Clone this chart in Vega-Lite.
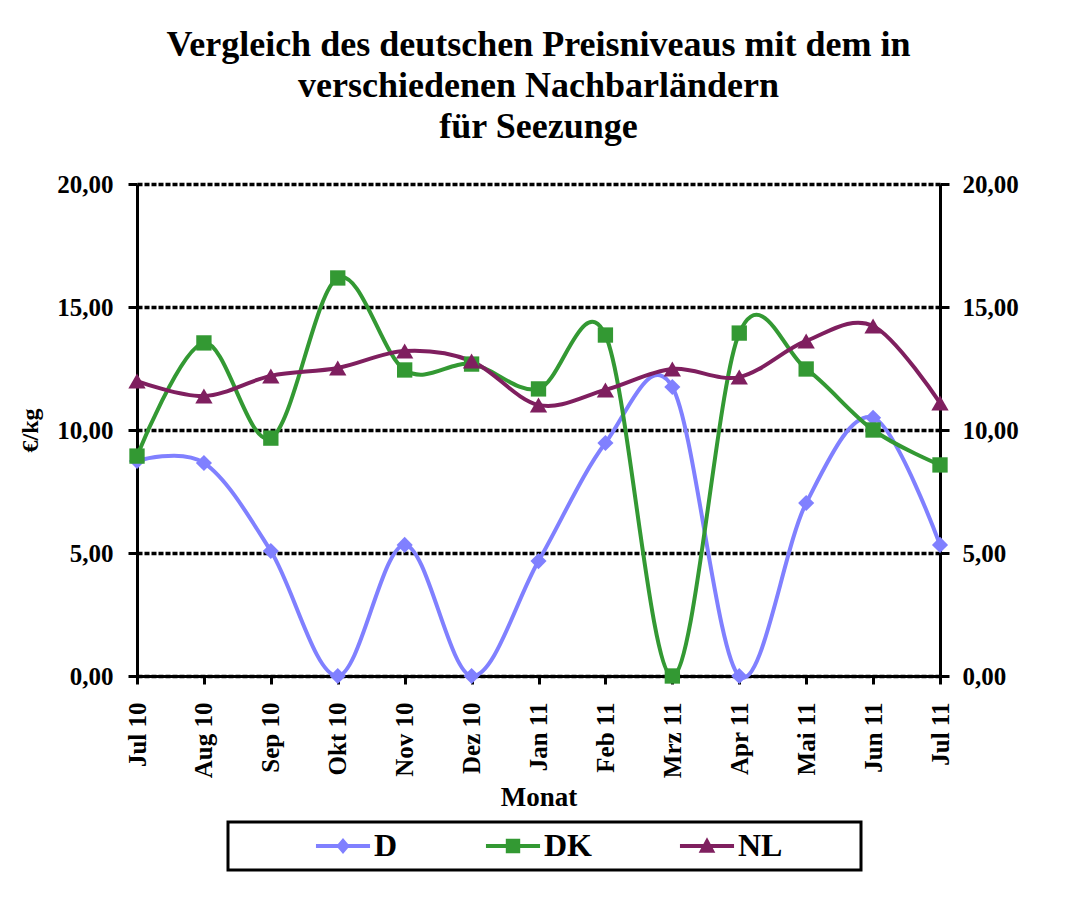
{
  "$schema": "https://vega.github.io/schema/vega-lite/v6.json",
  "width": 803,
  "height": 492,
  "autosize": {"type": "none"},
  "padding": {"left": 137, "top": 184, "right": 150, "bottom": 221},
  "background": "white",
  "config": {"view": {"stroke": null}},
  "title": {
    "text": ["Vergleich des deutschen Preisniveaus mit dem in", "verschiedenen Nachbarländern", "für Seezunge"],
    "font": "Liberation Serif",
    "fontSize": 36,
    "fontWeight": "bold",
    "lineHeight": 41,
    "anchor": "middle",
    "offset": 26,
    "color": "black"
  },
  "data": {
    "values": [
      {"Monat": "Jul 10", "Land": "D", "Preis": 8.74},
      {"Monat": "Aug 10", "Land": "D", "Preis": 8.66},
      {"Monat": "Sep 10", "Land": "D", "Preis": 5.08},
      {"Monat": "Okt 10", "Land": "D", "Preis": 0},
      {"Monat": "Nov 10", "Land": "D", "Preis": 5.33},
      {"Monat": "Dez 10", "Land": "D", "Preis": 0},
      {"Monat": "Jan 11", "Land": "D", "Preis": 4.67},
      {"Monat": "Feb 11", "Land": "D", "Preis": 9.47},
      {"Monat": "Mrz 11", "Land": "D", "Preis": 11.75},
      {"Monat": "Apr 11", "Land": "D", "Preis": 0},
      {"Monat": "Mai 11", "Land": "D", "Preis": 7.03},
      {"Monat": "Jun 11", "Land": "D", "Preis": 10.5},
      {"Monat": "Jul 11", "Land": "D", "Preis": 5.33},
      {"Monat": "Jul 10", "Land": "DK", "Preis": 8.94},
      {"Monat": "Aug 10", "Land": "DK", "Preis": 13.54},
      {"Monat": "Sep 10", "Land": "DK", "Preis": 9.67},
      {"Monat": "Okt 10", "Land": "DK", "Preis": 16.18},
      {"Monat": "Nov 10", "Land": "DK", "Preis": 12.44},
      {"Monat": "Dez 10", "Land": "DK", "Preis": 12.68},
      {"Monat": "Jan 11", "Land": "DK", "Preis": 11.67},
      {"Monat": "Feb 11", "Land": "DK", "Preis": 13.86},
      {"Monat": "Mrz 11", "Land": "DK", "Preis": 0},
      {"Monat": "Apr 11", "Land": "DK", "Preis": 13.94},
      {"Monat": "Mai 11", "Land": "DK", "Preis": 12.48},
      {"Monat": "Jun 11", "Land": "DK", "Preis": 10.0},
      {"Monat": "Jul 11", "Land": "DK", "Preis": 8.58},
      {"Monat": "Jul 10", "Land": "NL", "Preis": 11.99},
      {"Monat": "Aug 10", "Land": "NL", "Preis": 11.38},
      {"Monat": "Sep 10", "Land": "NL", "Preis": 12.2},
      {"Monat": "Okt 10", "Land": "NL", "Preis": 12.52},
      {"Monat": "Nov 10", "Land": "NL", "Preis": 13.21},
      {"Monat": "Dez 10", "Land": "NL", "Preis": 12.8},
      {"Monat": "Jan 11", "Land": "NL", "Preis": 11.02},
      {"Monat": "Feb 11", "Land": "NL", "Preis": 11.63},
      {"Monat": "Mrz 11", "Land": "NL", "Preis": 12.48},
      {"Monat": "Apr 11", "Land": "NL", "Preis": 12.15},
      {"Monat": "Mai 11", "Land": "NL", "Preis": 13.62},
      {"Monat": "Jun 11", "Land": "NL", "Preis": 14.23},
      {"Monat": "Jul 11", "Land": "NL", "Preis": 11.1}
    ]
  },
  "layer": [
    {
      "mark": {"type": "line", "interpolate": "cardinal", "strokeWidth": 4},
      "encoding": {
        "x": {
          "field": "Monat", "type": "ordinal",
          "sort": ["Jul 10","Aug 10","Sep 10","Okt 10","Nov 10","Dez 10","Jan 11","Feb 11","Mrz 11","Apr 11","Mai 11","Jun 11","Jul 11"],
          "scale": {"type": "point", "padding": 0},
          "axis": {
            "orient": "bottom", "labelAngle": -90,
            "labelFont": "Liberation Serif", "labelFontSize": 25, "labelFontWeight": "bold", "labelColor": "black",
            "labelPadding": 18, "tickSize": 8, "tickWidth": 3, "tickColor": "black",
            "domainColor": "black", "domainWidth": 3, "grid": false,
            "title": "Monat", "titleFont": "Liberation Serif", "titleFontSize": 27, "titleFontWeight": "bold",
            "titleColor": "black", "titlePadding": 7
          }
        },
        "y": {
          "field": "Preis", "type": "quantitative",
          "scale": {"domain": [0, 20]},
          "axis": {
            "orient": "left", "values": [0, 5, 10, 15, 20],
            "grid": true, "gridColor": "black", "gridWidth": 3.5, "gridDash": [5, 2],
            "domainColor": "black", "domainWidth": 3,
            "tickColor": "black", "tickWidth": 3, "tickSize": 9,
            "labelFont": "Liberation Serif", "labelFontSize": 25, "labelFontWeight": "bold", "labelColor": "black",
            "labelPadding": 15,
            "labelExpr": "replace(format(datum.value, '.2f'), '.', ',')",
            "title": "€/kg", "titleFont": "Liberation Serif", "titleFontSize": 24, "titleFontWeight": "bold",
            "titleColor": "black", "titlePadding": 14
          }
        },
        "stroke": {
          "field": "Land", "type": "nominal",
          "scale": {"domain": ["D", "DK", "NL"], "range": ["#8080FF", "#339933", "#7F1F5F"]},
          "legend": {
            "orient": "none", "legendX": 91, "legendY": 638,
            "direction": "horizontal",
            "title": "\u00a0", "titleOrient": "right", "titlePadding": 71,
            "titleFont": "Liberation Serif", "titleFontSize": 32, "titleColor": "black",
            "strokeColor": "black", "fillColor": "white",
            "padding": 8, "symbolOffset": 91, "columnPadding": 8,
            "labelFont": "Liberation Serif", "labelFontSize": 32, "labelFontWeight": "bold", "labelColor": "black",
            "symbolSize": 1024, "labelOffset": 15,
            "encode": {
              "legend": {"update": {"strokeWidth": {"value": 3}}},
              "symbols": {
                "update": {
                  "shape": {"signal": "datum.value === 'D' ? 'M-1.69,-0.13H1.69V0.13H-1.69Z M0,-0.5L0.42,0L0,0.5L-0.42,0Z' : datum.value === 'DK' ? 'M-1.69,-0.13H1.69V0.13H-1.69Z M-0.45,-0.45H0.45V0.45H-0.45Z' : 'M-1.69,-0.13H1.69V0.13H-1.69Z M0,-0.55L0.52,0.42H-0.52Z'"},
                  "fill": {"signal": "scale('stroke', datum.value)"},
                  "stroke": {"value": "transparent"},
                  "strokeWidth": {"value": 0},
                  "opacity": {"value": 1}
                }
              }
            }
          }
        }
      }
    },
    {
      "transform": [{"filter": "datum.Land == 'D'"}],
      "mark": {"type": "point", "filled": true, "shape": "diamond", "size": 260, "opacity": 1, "color": "#8080FF"},
      "encoding": {
        "x": {
          "field": "Monat", "type": "ordinal",
          "sort": ["Jul 10","Aug 10","Sep 10","Okt 10","Nov 10","Dez 10","Jan 11","Feb 11","Mrz 11","Apr 11","Mai 11","Jun 11","Jul 11"]
        },
        "y": {
          "field": "Preis", "type": "quantitative",
          "axis": {
            "orient": "right", "values": [0, 5, 10, 15, 20], "grid": false,
            "domainColor": "black", "domainWidth": 3,
            "tickColor": "black", "tickWidth": 3, "tickSize": 9,
            "labelFont": "Liberation Serif", "labelFontSize": 25, "labelFontWeight": "bold", "labelColor": "black",
            "labelPadding": 13,
            "labelExpr": "replace(format(datum.value, '.2f'), '.', ',')",
            "title": null
          }
        }
      }
    },
    {
      "transform": [{"filter": "datum.Land == 'DK'"}],
      "mark": {"type": "point", "filled": true, "shape": "square", "size": 235, "opacity": 1, "color": "#339933"},
      "encoding": {
        "x": {
          "field": "Monat", "type": "ordinal",
          "sort": ["Jul 10","Aug 10","Sep 10","Okt 10","Nov 10","Dez 10","Jan 11","Feb 11","Mrz 11","Apr 11","Mai 11","Jun 11","Jul 11"]
        },
        "y": {"field": "Preis", "type": "quantitative", "axis": null}
      }
    },
    {
      "transform": [{"filter": "datum.Land == 'NL'"}],
      "mark": {"type": "point", "filled": true, "shape": "triangle-up", "size": 300, "opacity": 1, "color": "#7F1F5F"},
      "encoding": {
        "x": {
          "field": "Monat", "type": "ordinal",
          "sort": ["Jul 10","Aug 10","Sep 10","Okt 10","Nov 10","Dez 10","Jan 11","Feb 11","Mrz 11","Apr 11","Mai 11","Jun 11","Jul 11"]
        },
        "y": {"field": "Preis", "type": "quantitative", "axis": null}
      }
    }
  ],
  "resolve": {"axis": {"y": "independent"}}
}
